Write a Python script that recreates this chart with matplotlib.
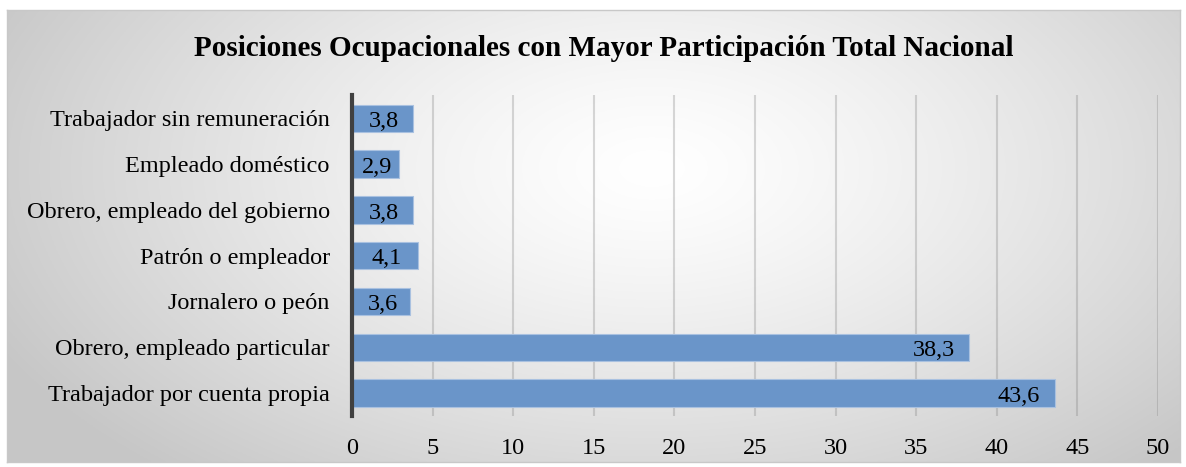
import numpy as np
import matplotlib
matplotlib.use("Agg")
import matplotlib.pyplot as plt

categories = ["Trabajador por cuenta propia", "Obrero, empleado particular", "Jornalero o peón",
              "Patrón o empleador", "Obrero, empleado del gobierno", "Empleado doméstico",
              "Trabajador sin remuneración"]
values = [43.6, 38.3, 3.6, 4.1, 3.8, 2.9, 3.8]
xticks = [0, 5, 10, 15, 20, 25, 30, 35, 40, 45, 50]
title = "Posiciones Ocupacionales con Mayor Participación Total Nacional"

W, H = 1186, 467
fig = plt.figure(figsize=(W / 100, H / 100), dpi=100)
fig.patch.set_facecolor("white")

# background frame with radial gradient
x0, x1, y0, y1 = 7, 1180, 10, 462
bg = fig.add_axes([x0 / W, 1 - y1 / H, (x1 - x0) / W, (y1 - y0) / H])
nx, ny = 600, 230
xx, yy = np.meshgrid(np.linspace(0, 1, nx), np.linspace(0, 1, ny))
cx, cy = 0.55, 0.35
d = np.sqrt(((xx - cx) / 0.62) ** 2 + ((yy - cy) / 0.9) ** 2)
d = np.clip(d, 0, 1)
val = 1.0 - 0.22 * d ** 1.3
bg.imshow(np.dstack([val, val, val]), aspect="auto", extent=[0, 1, 0, 1], origin="upper")
bg.set_xticks([]); bg.set_yticks([])
for s in bg.spines.values():
    s.set_color("#c8c8c8"); s.set_linewidth(1)
bg.set_zorder(0)

ax = fig.add_axes([352 / W, 1 - 416 / H, (1158 - 352) / W, (416 - 95.4) / H])
ax.set_zorder(1)
ax.patch.set_alpha(0)

FS = 17.5
ypos = np.arange(len(categories))
ax.barh(ypos, values, height=0.6, color="#6a95c9", edgecolor="#a9c1e0", linewidth=0.8, zorder=3)
ax.set_xlim(0, 50)
ax.set_ylim(-0.5, len(categories) - 0.5)
ax.set_xticks(xticks)
ax.set_xticklabels([str(t) for t in xticks], fontsize=FS, family="Liberation Serif")
ax.set_yticks(ypos)
ax.set_yticklabels(categories, fontsize=FS, family="Liberation Serif")
ax.tick_params(axis="x", length=0, pad=16)
ax.tick_params(axis="y", length=0, pad=16)
ax.xaxis.grid(True, color="#808080", alpha=0.3, linewidth=1.5, zorder=1)
ax.set_axisbelow(True)
for k in ["top", "right", "bottom"]:
    ax.spines[k].set_visible(False)
ax.spines["left"].set_color("#404040")
ax.spines["left"].set_linewidth(3)
ax.spines["left"].set_zorder(4)

for y, v in zip(ypos, values):
    lab = f"{v:.1f}".replace(".", ",")
    if v > 10:
        ax.text(v - 0.9, y - 0.07, lab, ha="right", va="center", fontsize=FS,
                family="Liberation Serif", color="black", zorder=5)
    else:
        ax.text(v / 2 + 0.1, y - 0.07, lab, ha="center", va="center", fontsize=FS,
                family="Liberation Serif", color="black", zorder=5)

fig.text(604 / W, 1 - 48 / H, title, ha="center", va="center", fontsize=21,
         fontweight="bold", family="Liberation Serif")

fig.savefig("out.png", dpi=100)
